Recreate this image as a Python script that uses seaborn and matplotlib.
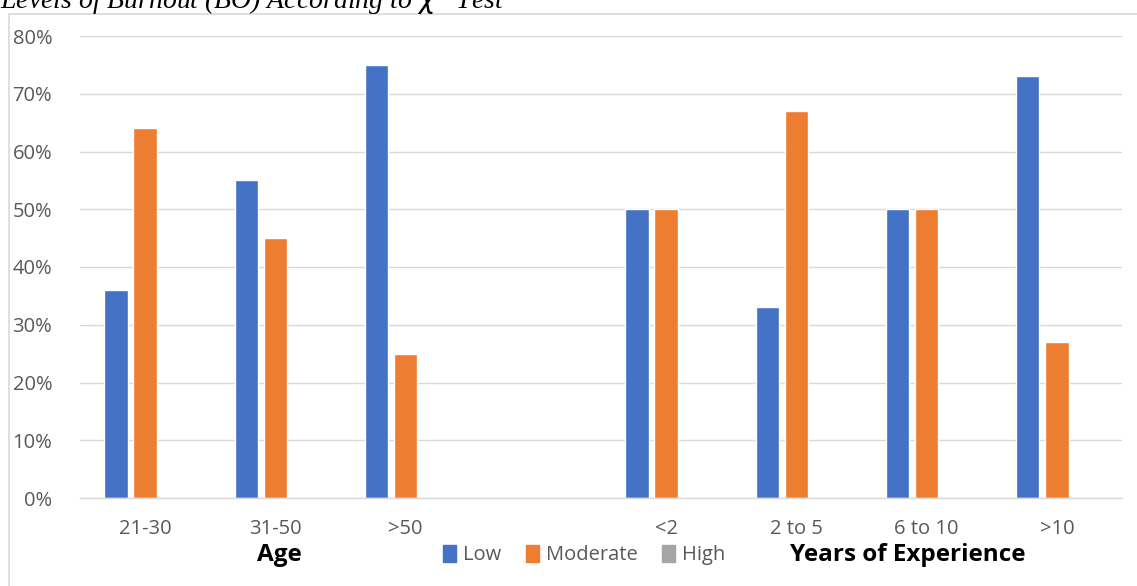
import matplotlib
matplotlib.use("Agg")
import matplotlib.pyplot as plt
import matplotlib.patches as mpatches
import seaborn as sns
import pandas as pd

categories = ["21-30", "31-50", ">50", " ", "<2", "2 to 5", "6 to 10", ">10"]
data_categories = ["21-30", "31-50", ">50", "<2", "2 to 5", "6 to 10", ">10"]
low = [36, 55, 75, 50, 33, 50, 73]
moderate = [64, 45, 25, 50, 67, 50, 27]
high = [0, 0, 0, 0, 0, 0, 0]
levels = ["Low", "Moderate", "High"]
colors = ["#4472C4", "#ED7D31", "#A5A5A5"]
yticks = [0, 10, 20, 30, 40, 50, 60, 70, 80]

rows = []
for c, l, m, h in zip(data_categories, low, moderate, high):
    rows.append((c, "Low", l))
    rows.append((c, "Moderate", m))
    rows.append((c, "High", h))
df = pd.DataFrame(rows, columns=["cat", "level", "value"])

sns.set_style("white")
plt.rcParams["font.family"] = ["Open Sans", "DejaVu Sans"]

fig = plt.figure(figsize=(11.37, 5.86), dpi=100)
ax = fig.add_axes([80 / 1137, 1 - 498 / 586, 1042 / 1137, 462 / 586])

sns.barplot(data=df, x="cat", y="value", hue="level", order=categories,
            hue_order=levels, palette=colors, width=0.67, gap=0.2,
            errorbar=None, ax=ax, legend=False, saturation=1)

ax.set_ylim(0, 80)
ax.set_xlim(-0.5, len(categories) - 0.5)
ax.set_yticks(yticks)
ax.set_yticklabels([f"{t}%" for t in yticks], color="#595959", fontsize=14.5)
ax.set_xticks(range(len(categories)))
ax.set_xticklabels(categories, color="#595959", fontsize=14.5)
ax.tick_params(axis="x", length=0, pad=15)
ax.tick_params(axis="y", length=0, pad=20)
ax.set_xlabel("")
ax.set_ylabel("")
ax.grid(axis="y", color="#D9D9D9", linewidth=1)
ax.set_axisbelow(True)
for s in ["top", "right", "left"]:
    ax.spines[s].set_visible(False)
ax.spines["bottom"].set_color("#D9D9D9")
ax.spines["bottom"].set_linewidth(1)

# group labels
fig.text(279 / 1137, 1 - 555 / 586, "Age", ha="center", va="center",
         fontsize=17.5, fontweight="bold", color="black")
fig.text(908 / 1137, 1 - 555 / 586, "Years of Experience", ha="center", va="center",
         fontsize=17.5, fontweight="bold", color="black")

# legend
handles = [mpatches.Patch(color=c, label=l) for c, l in zip(colors, levels)]
leg = fig.legend(handles=handles, loc="center", bbox_to_anchor=(584 / 1137, 1 - 555 / 586),
                 ncol=3, frameon=False, fontsize=14.5, handlelength=0.65, handleheight=0.9,
                 handletextpad=0.35, columnspacing=1.2)
for t in leg.get_texts():
    t.set_color("#595959")

# outer chart border
fig.patches.append(mpatches.Rectangle((9 / 1137, -0.05), 1.2, 1 - 14 / 586 + 0.05,
                                      transform=fig.transFigure, fill=False,
                                      edgecolor="#D9D9D9", linewidth=1.2))

# partially clipped title
fig.text(0.0, 1 + 1 / 586, "Levels of Burnout (BO) According to $\\chi^2$ Test",
         ha="left", va="center", fontsize=20, style="italic",
         family=["Liberation Serif", "DejaVu Serif"], color="black")

fig.savefig("out.png", dpi=100)
